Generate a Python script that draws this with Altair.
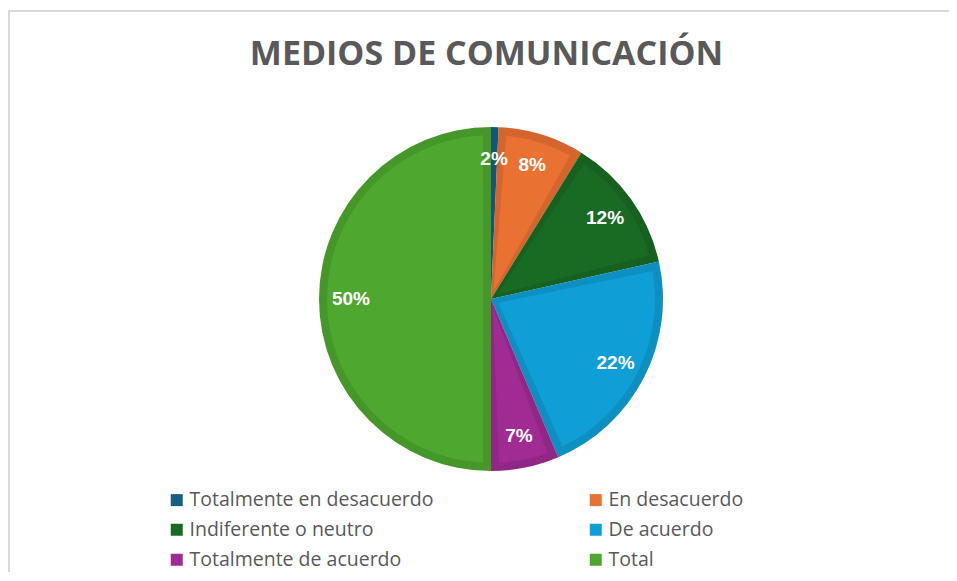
import altair as alt
import pandas as pd

# ---- data ----
categories = [
    "Totalmente en desacuerdo",
    "En desacuerdo",
    "Indiferente o neutro",
    "De acuerdo",
    "Totalmente de acuerdo",
    "Total",
]
values = [0.7, 8.1, 12.7, 22.1, 6.4, 50.0]
pct_labels = ["2%", "8%", "12%", "22%", "7%", "50%"]

# ---- palette (Office theme) ----
fill_colors = ["#156082", "#E97132", "#196B24", "#0F9ED5", "#A02B93", "#4EA72E"]

df = pd.DataFrame({
    "categoria": categories,
    "valor": values,
    "etiqueta": pct_labels,
    "orden": list(range(len(categories))),
})
frame_df = pd.DataFrame({"k": [0]})

W, H = 941, 562
CX, CY = 483, 289

color_enc = alt.Color(
    "categoria:N",
    scale=alt.Scale(domain=categories, range=fill_colors),
    legend=alt.Legend(
        title=None, orient="none", legendX=159, legendY=480,
        direction="horizontal", columns=2, columnPadding=152, rowPadding=9,
        symbolType="square", symbolSize=144, symbolStrokeWidth=0,
        labelFontSize=19.5, labelFont="Open Sans", labelColor="#595959",
        labelOffset=3, labelLimit=400,
    ),
)

base = alt.Chart(df).encode(
    theta=alt.Theta("valor:Q", stack=True),
    order=alt.Order("orden:Q"),
    x=alt.value(CX),
    y=alt.value(CY),
)

rim = base.mark_arc(radius=172).encode(color=color_enc)
shade = base.mark_arc(radius=172, color="black", opacity=0.09)
inner = base.mark_arc(radius=164, innerRadius=8, padAngle=0.098).encode(color=color_enc)

labels = base.mark_text(
    radius=140, font="Liberation Sans", fontWeight="bold", fontSize=19,
    color="white", baseline="middle", align="center",
).encode(text="etiqueta:N")

top_rule = alt.Chart(frame_df).mark_rule(color="#d9d9d9", strokeWidth=2).encode(
    x=alt.value(0), x2=alt.value(W), y=alt.value(1)
)
left_rule = alt.Chart(frame_df).mark_rule(color="#d9d9d9", strokeWidth=2).encode(
    x=alt.value(1), y=alt.value(0), y2=alt.value(H)
)

chart = alt.layer(top_rule, left_rule, rim, shade, inner, labels).properties(
    width=W,
    height=H,
    padding={"left": 0, "top": 2, "right": 0, "bottom": 0},
    autosize=alt.AutoSizeParams(type="none"),
    title=alt.TitleParams(
        "MEDIOS DE COMUNICACIÓN",
        font="Open Sans", fontSize=34, fontWeight="bold", color="#595959",
        anchor="middle", frame="group", offset=-55, baseline="alphabetic",
        dx=8, dy=35,
    ),
).configure_view(stroke=None)

chart.save("out.html", embed_options={"renderer": "svg", "actions": False})
